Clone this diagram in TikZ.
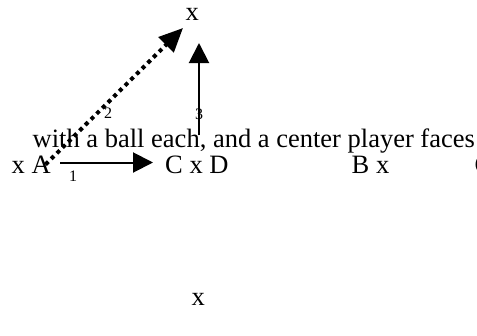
\documentclass[tikz,border=0pt]{standalone}
\usepackage{fontspec}
\setmainfont{Liberation Serif}
\usetikzlibrary{arrows.meta}
\begin{document}
\begin{tikzpicture}[x=1pt,y=-1pt,
  txt/.style={inner sep=0pt, anchor=base west, font=\fontsize{26.5}{30}\selectfont},
  num/.style={inner sep=0pt, font=\fontsize{16}{18}\selectfont},
  arr/.style={line width=2pt, -{Triangle[length=20pt,width=20pt]}},
  dotarr/.style={line width=4pt, dash pattern=on 4pt off 4pt, -{Triangle[length=24pt,width=21pt]}}]
\useasboundingbox (0,0) rectangle (477,335);
\clip (0,0) rectangle (477,335);
% texts
\node[txt] (top) at (185.5,20) {x};
\node[txt] (sent) at (32.5,147.5) {with a ball each, and a center player faces};
\node[txt] (xa) at (11.5,173.5) {x A};
\node[txt] (cxd) at (165,173.5) {C x D};
\node[txt] (bx) at (351.5,173.5) {B x};
\node[txt] (cut) at (474.5,173.5) {C};
\node[txt] (bot) at (191.5,305) {x};
% labels
\node[num] (l1) at (73,176) {1};
\node[num] (l2) at (108,113) {2};
\node[num] (l3) at (199,114) {3};
% arrow end points
\coordinate (a1s) at (60,162.5);
\coordinate (a1e) at (153,162.5);
\coordinate (a2s) at (45.5,164.5);
\coordinate (a2e) at (183,28);
\coordinate (a3s) at (199,135);
\coordinate (a3e) at (199,43);
\draw[arr] (a1s) -- (a1e);
\draw[dotarr] (a2s) -- (a2e);
\draw[arr] (a3s) -- (a3e);
\end{tikzpicture}
\end{document}
